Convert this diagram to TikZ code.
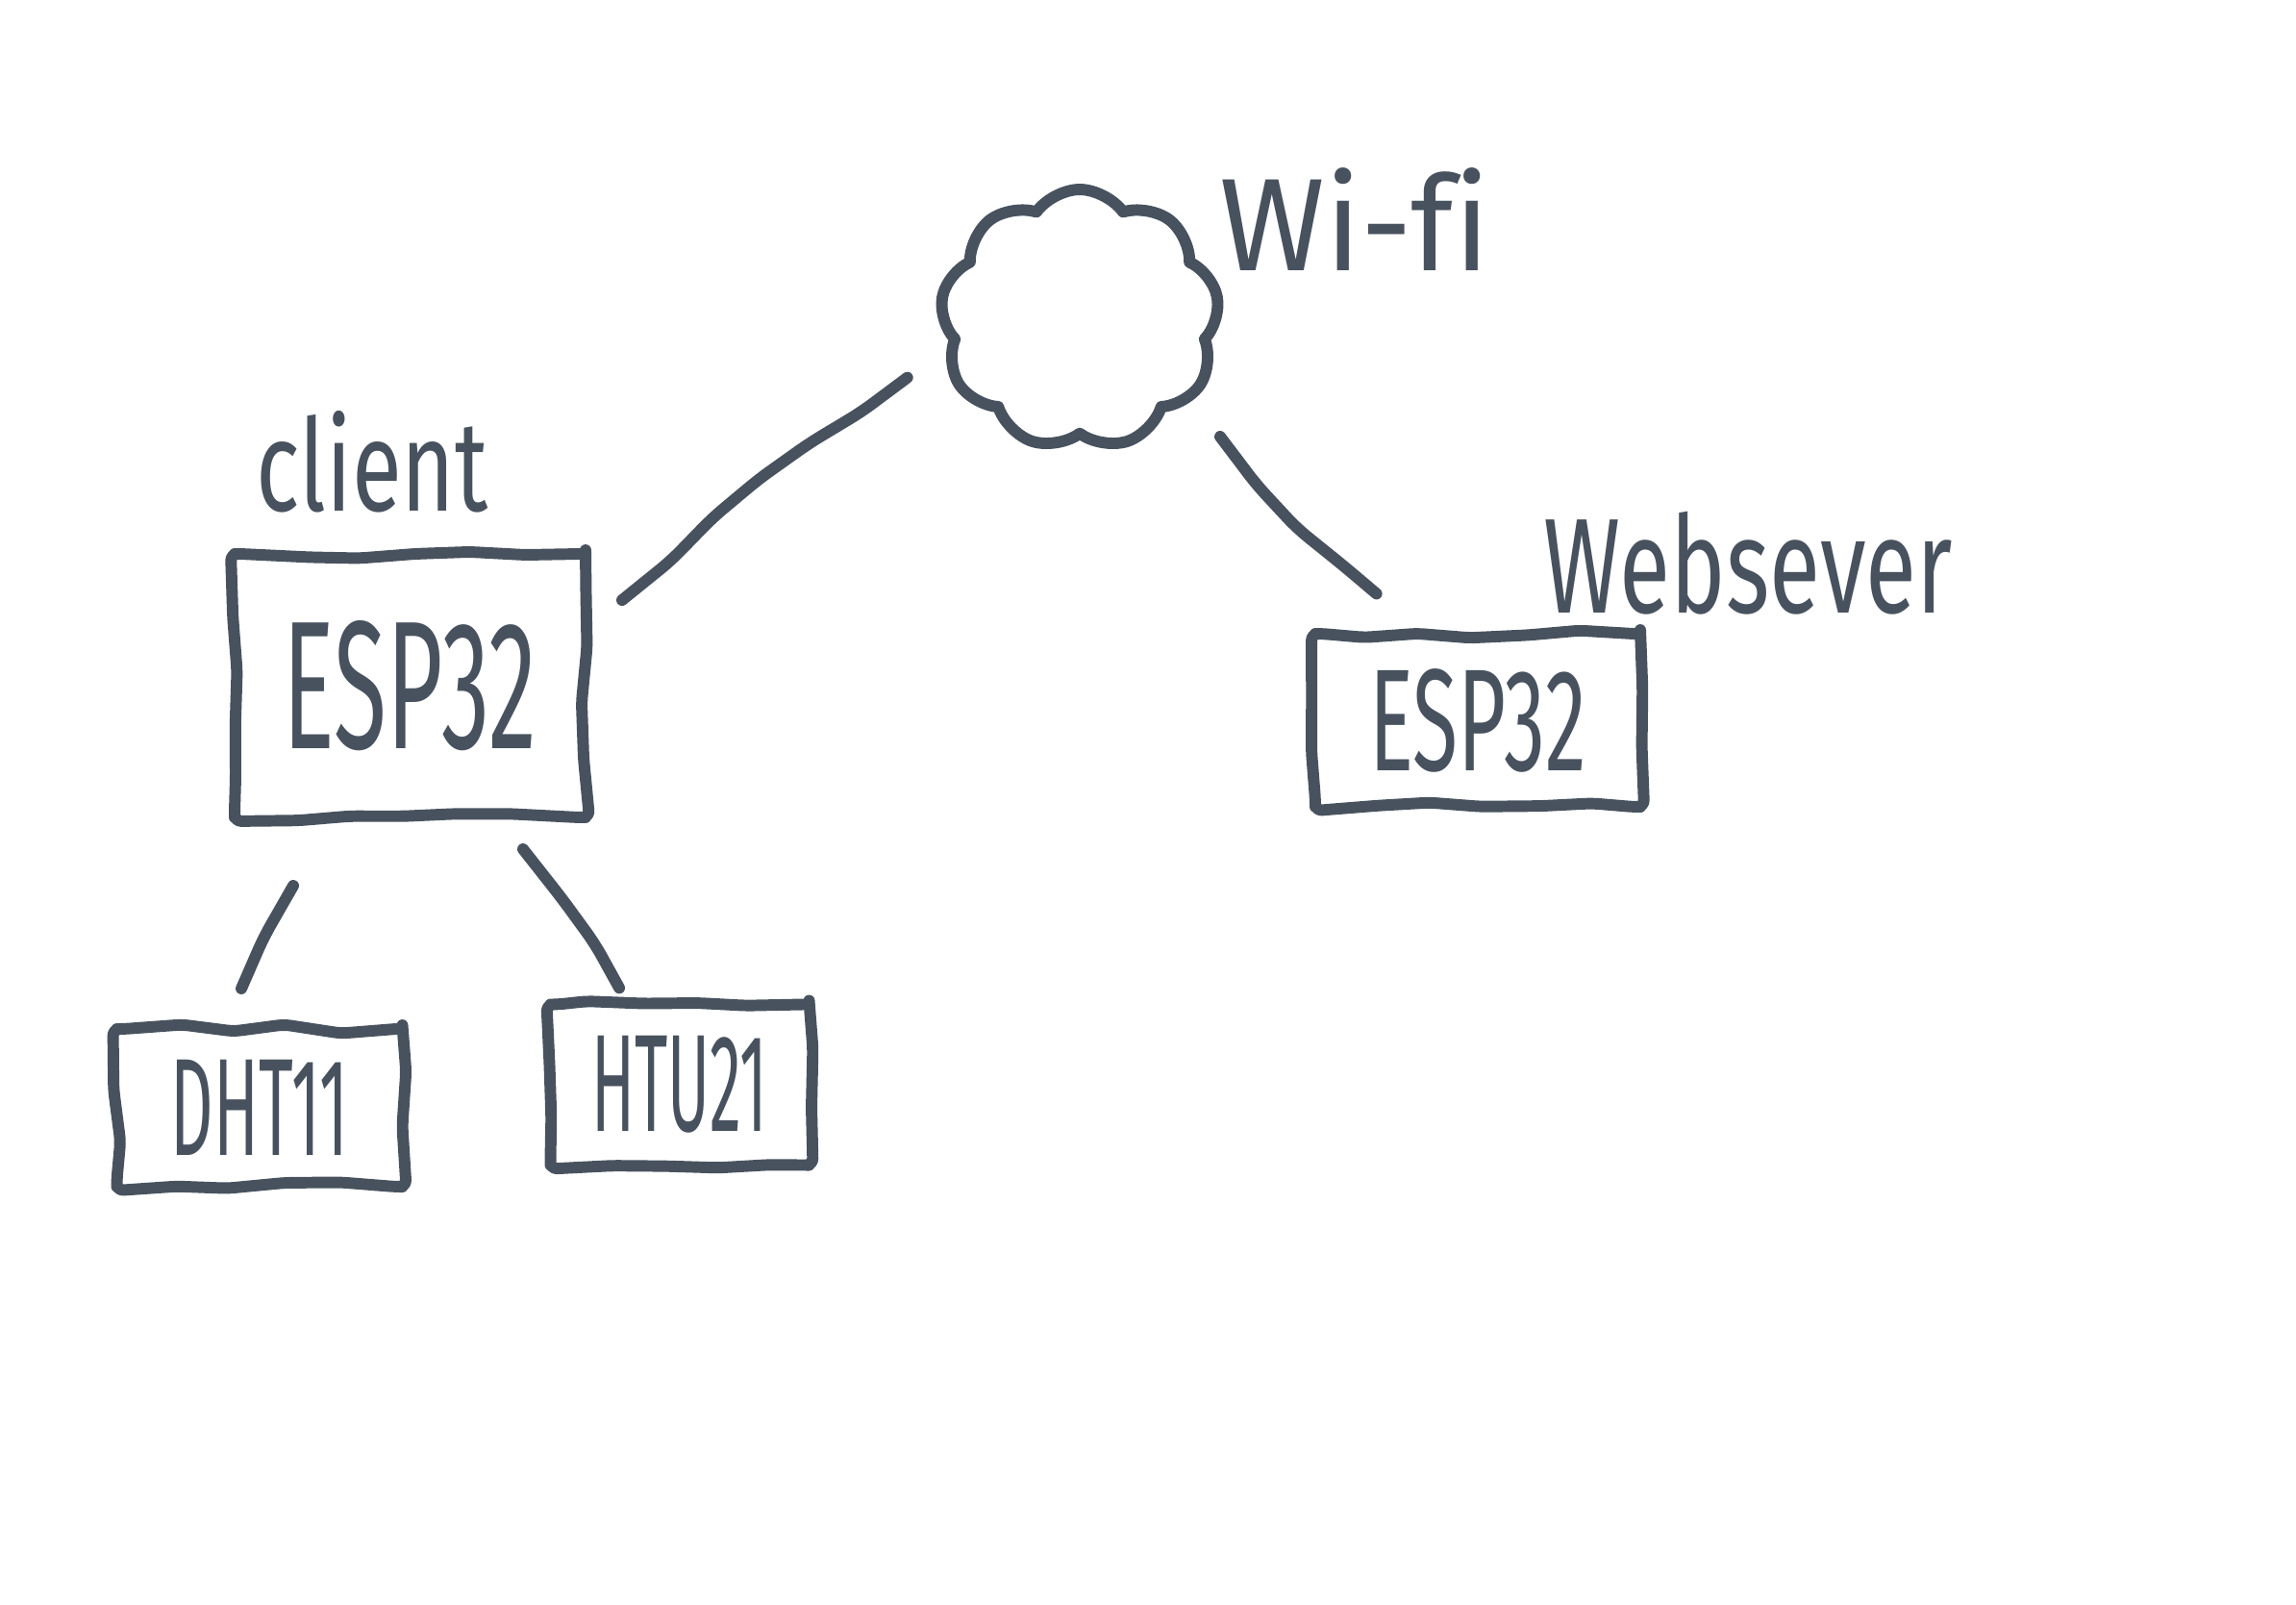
\documentclass[tikz,border=0pt]{standalone}
\usepackage{fontspec}
\setmainfont{Fira Sans}[Ligatures=NoCommon]
\usetikzlibrary{shapes.symbols,decorations.pathmorphing}
\definecolor{ink}{HTML}{48525F}
\tikzset{
  pen/.style={draw=ink, line width=3.4pt, line cap=round, line join=round},
  sketch/.style={decorate, decoration={random steps, segment length=16pt, amplitude=1.3pt}, rounded corners=2pt},
  box/.style={pen, sketch, rectangle, inner sep=0pt, text=ink},
  lbl/.style={text=ink, inner sep=0pt},
  conn/.style={pen, decorate, decoration={random steps, segment length=18pt, amplitude=1pt}, rounded corners=4pt},
}
\newcommand{\hw}[3]{\fontsize{#2}{#2}\selectfont\scalebox{#1}[1]{#3}}
\begin{document}
\begin{tikzpicture}
\pgfmathsetseed{7}
\useasboundingbox[fill=white] (0,0) rectangle (23.88,-16.68);
% boxes
\node[box, minimum width=3.65cm, minimum height=2.74cm] (client) at (4.265,-7.13) {\hw{0.53}{54pt}{ESP32}};
\node[box, minimum width=3.38cm, minimum height=1.80cm] (server) at (15.37,-7.49) {\hw{0.57}{43pt}{ESP32}};
\node[box, minimum width=2.97cm, minimum height=1.64cm] (dht) at (2.70,-11.52) {\hw{0.48}{41pt}{DHT11}};
\node[box, minimum width=2.69cm, minimum height=1.67cm] (htu) at (7.07,-11.28) {\hw{0.46}{41pt}{HTU21}};
% cloud
\node[pen, cloud, cloud puffs=9, cloud puff arc=110, aspect=1.08, minimum width=2.9cm, minimum height=2.7cm, inner sep=0pt] (cloud) at (11.23,-3.32) {};
% labels
\node[lbl] (lclient) at (3.87,-4.80) {\hw{0.71}{38pt}{client}};
\node[lbl] (lwifi) at (14.09,-2.28) {\hw{0.97}{39pt}{Wi-fi}};
\node[lbl] (lserver) at (18.18,-5.86) {\hw{0.69}{40pt}{Websever}};
% connectors
\draw[conn] ([shift={(2.205,0.89)}]client.center) to[bend left=4] ([shift={(-1.79,-0.61)}]cloud.center);
\draw[conn] ([shift={(1.46,-1.22)}]cloud.center) to[bend right=6] ([shift={(-1.05,1.32)}]server.center);
\draw[conn] ([shift={(-1.215,-2.08)}]client.center) -- ([shift={(-0.19,1.24)}]dht.center);
\draw[conn] ([shift={(1.175,-1.70)}]client.center) to[bend left=6] ([shift={(-0.64,1.00)}]htu.center);
\end{tikzpicture}
\end{document}
